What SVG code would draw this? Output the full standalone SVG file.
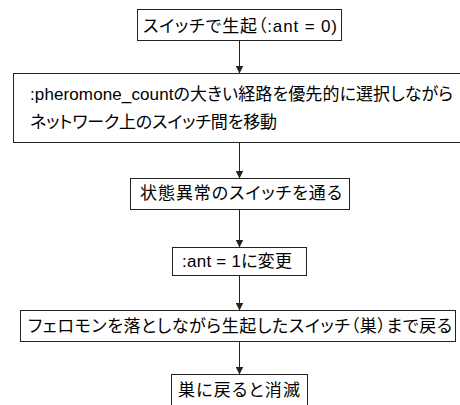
<svg xmlns="http://www.w3.org/2000/svg" width="460" height="405" viewBox="0 0 460 405">
<defs>
<style>
.box{fill:#fff;stroke:#222;stroke-width:1}
.t{font-family:"Liberation Sans","Noto Sans CJK JP",sans-serif;font-size:17px;fill:#000;font-feature-settings:"palt"}
.c{text-anchor:middle}
.edge{stroke:#222;stroke-width:1;fill:none}
</style>
<marker id="arr" viewBox="0 0 8 8" refX="8" refY="4" markerWidth="8" markerHeight="8" markerUnits="userSpaceOnUse" orient="auto">
<path d="M0,0 L8,4 L0,8 Z" fill="#222"/>
</marker>
</defs>
<rect width="460" height="405" fill="#fff"/>
<g id="connectors">
<line class="edge" x1="239.5" y1="40.5" x2="239.5" y2="73.5" marker-end="url(#arr)"/>
<line class="edge" x1="239.5" y1="142.5" x2="239.5" y2="178.5" marker-end="url(#arr)"/>
<line class="edge" x1="239.5" y1="209.5" x2="239.5" y2="247.5" marker-end="url(#arr)"/>
<line class="edge" x1="239.5" y1="275.5" x2="239.5" y2="310.5" marker-end="url(#arr)"/>
<line class="edge" x1="239.5" y1="341.5" x2="239.5" y2="374.5" marker-end="url(#arr)"/>
</g>
<g id="n1">
<rect class="box" x="137.5" y="9.5" width="204" height="31"/>
<text class="t" x="143" y="32" textLength="194">スイッチで生起（:ant = 0)</text>
</g>
<g id="n2">
<rect class="box" x="13.5" y="73.5" width="460" height="69"/>
<text class="t" x="30" y="100" textLength="423">:pheromone_countの大きい経路を優先的に選択しながら</text>
<text class="t" x="30" y="128" textLength="247">ネットワーク上のスイッチ間を移動</text>
</g>
<g id="n3">
<rect class="box" x="130.5" y="178.5" width="219" height="31"/>
<text class="t" x="140" y="199" textLength="202">状態異常のスイッチを通る</text>
</g>
<g id="n4">
<rect class="box" x="172.5" y="247.5" width="134" height="28"/>
<text class="t" x="182" y="267" textLength="110">:ant = 1に変更</text>
</g>
<g id="n5">
<rect class="box" x="20.5" y="310.5" width="435" height="31"/>
<text class="t" x="28" y="332" textLength="424">フェロモンを落としながら生起したスイッチ（巣）まで戻る</text>
</g>
<g id="n6">
<rect class="box" x="171.5" y="374.5" width="136" height="40"/>
<text class="t" x="178" y="396" textLength="122">巣に戻ると消滅</text>
</g>
</svg>
